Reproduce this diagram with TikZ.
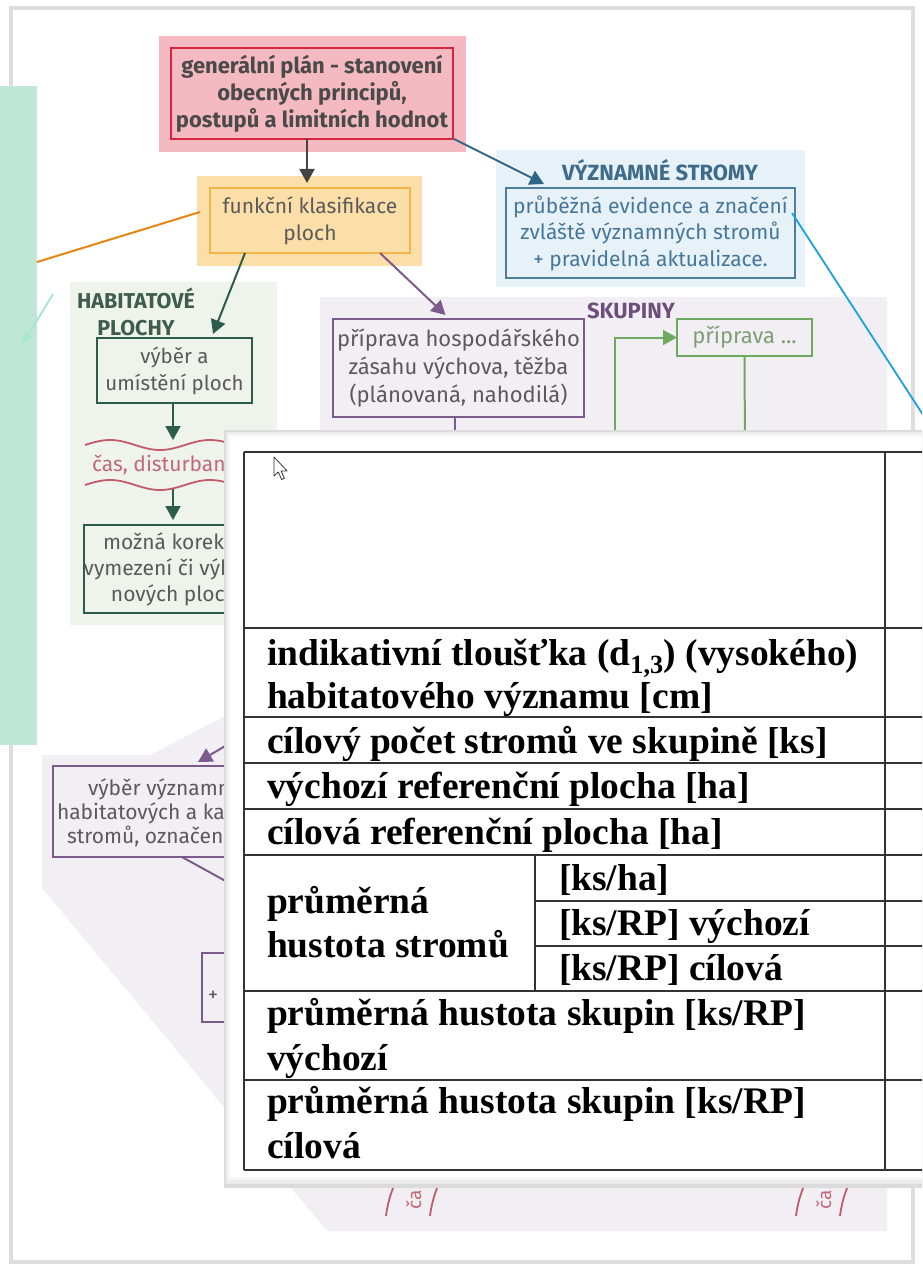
\documentclass[tikz,border=0pt]{standalone}
\usepackage{fontspec}
\setmainfont{Liberation Serif}
\newfontfamily\fcsans{Fira Sans}
\newfontfamily\fcbold{Fira Sans}
\usetikzlibrary{arrows.meta}
\definecolor{pagegray}{HTML}{DDDDDD}
\definecolor{mint}{HTML}{C0E6D5}
\definecolor{mintarr}{HTML}{A6EACD}
\definecolor{orangeline}{HTML}{E8850F}
\definecolor{redfill}{HTML}{F4B9C1}
\definecolor{redline}{HTML}{D6263F}
\definecolor{boldgray}{HTML}{4A4A4A}
\definecolor{txtgray}{HTML}{5A5A5A}
\definecolor{arrgray}{HTML}{444444}
\definecolor{orfill}{HTML}{FCDEA8}
\definecolor{orline}{HTML}{F4B548}
\definecolor{bluefill}{HTML}{E6F1F8}
\definecolor{blueline}{HTML}{4D7F9C}
\definecolor{bluetitle}{HTML}{3F6B8A}
\definecolor{bluetext}{HTML}{46779A}
\definecolor{bluearr}{HTML}{2F6688}
\definecolor{cyanline}{HTML}{19A2E0}
\definecolor{greenfill}{HTML}{EEF3EC}
\definecolor{greentitle}{HTML}{3F5D4E}
\definecolor{greenline}{HTML}{2E5C4C}
\definecolor{wavered}{HTML}{C25A6A}
\definecolor{wavetext}{HTML}{C06A78}
\definecolor{purplefill}{HTML}{F2EFF4}
\definecolor{purpleline}{HTML}{7D5A8C}
\definecolor{purpletitle}{HTML}{6E4E7E}
\definecolor{lgreenline}{HTML}{6DAA5F}
\definecolor{lgreentext}{HTML}{7F9E74}
\definecolor{tabline}{HTML}{333333}
\begin{document}
\begin{tikzpicture}[x=1pt,y=-1pt,
  every node/.style={inner sep=0pt, outer sep=0pt},
  sanslbl/.style={font=\fcsans\fontsize{21}{27}\selectfont, text=txtgray, align=center},
  boldlbl/.style={font=\fcbold\bfseries\fontsize{22}{27}\selectfont, text=boldgray, align=center},
  boxline/.style={line width=2pt},
  arrhead/.style={line width=2pt, -{Triangle[length=14pt,width=15pt]}},
  tabtext/.style={anchor=base west, font=\bfseries\fontsize{37.5}{43}\selectfont, text=black},
  tabrule/.style={line width=2.2pt, draw=tabline},
]
\useasboundingbox (0,0) rectangle (922,1268);
\clip (0,0) rectangle (922,1268);
\fill[white] (0,0) rectangle (922,1268);
% page frame
\draw[line width=4pt, pagegray] (11,8) rectangle (913,1262);

% mint strip and its connectors
\fill[mint] (0,86) rectangle (37,745);
\coordinate (mintA) at (37,262);
\coordinate (mintB) at (53,294);
\coordinate (mintC) at (22,345);

% SKUPINY region (lavender)
\fill[purplefill] (320,297) -- (887,297) -- (887,1231) -- (327,1231) -- (42,888)
   -- (42,755) -- (150,755) -- (320,667) -- cycle;

% red box
\node[fill=redfill, minimum width=307pt, minimum height=116pt] (redbg) at (312.5,94) {};
\node[draw=redline, line width=2.2pt, minimum width=282pt, minimum height=91pt, boldlbl] (red) at (312,93.5)
  {generální plán - stanovení\\obecných principů,\\postupů a limitních hodnot};

% orange box
\node[fill=orfill, minimum width=225pt, minimum height=90pt] (orbg) at (309.5,221) {};
\node[draw=orline, boxline, minimum width=200pt, minimum height=65pt, sanslbl] (orange) at (310,220.5)
  {funkční klasifikace\\ploch};

\draw[arrhead, arrgray] ([xshift=-5pt]red.south) -- ([xshift=-2.5pt,yshift=-7pt]orbg.north);
\draw[line width=2pt, orangeline] (orange.west |- 0,212) ++(-10,0) coordinate (orA) -- (mintA);
\draw[line width=2pt, mintarr, -{Stealth[length=14pt,width=10pt]}] (mintB) -- (mintC);

% VYZNAMNE STROMY
\node[fill=bluefill, minimum width=309pt, minimum height=137pt] (bluebg) at (650.5,218.5) {};
\node[font=\fcbold\bfseries\fontsize{22}{24}\selectfont, text=bluetitle] (bluett) at (660,170) {VÝZNAMNÉ STROMY};
\node[draw=blueline, boxline, minimum width=289pt, minimum height=90pt, sanslbl, text=bluetext, font=\fcsans\fontsize{21}{26.5}\selectfont] (blue) at (650.5,233)
  {průběžná evidence a značení\\zvláště významných stromů\\+ pravidelná aktualizace.};
\coordinate (bluetip) at (544,184);
\draw[arrhead, bluearr] ([xshift=1pt]red.south east) -- (bluetip);
\coordinate (cyanA) at (792,213);
\coordinate (cyanB) at (940,441);
\draw[line width=1.8pt, cyanline] (cyanA) -- (cyanB);

% HABITATOVE PLOCHY
\node[fill=greenfill, minimum width=207pt, minimum height=343pt] (greenbg) at (173.5,453.5) {};
\node[font=\fcbold\bfseries\fontsize{21.5}{27}\selectfont, text=greentitle, align=center] (habtt) at (136,311.5) {HABITATOVÉ\\PLOCHY};
\node[draw=greenline, boxline, minimum width=155pt, minimum height=65pt, sanslbl, font=\fcsans\fontsize{20.5}{27}\selectfont] (hab1) at (174.5,370.5)
  {výběr a\\umístění ploch};
\draw[arrhead, greenline] ([xshift=35pt]orange.south west) -- ([xshift=116pt,yshift=4pt]hab1.north west);
\coordinate (wavetop) at (173,440);
\draw[arrhead, greenline] ([xshift=-1.5pt]hab1.south) -- (wavetop);
\draw[line width=1.8pt, wavered] plot[domain=85:300, samples=90] (\x, {445 - 5*sin((\x-85)*3.6)});
\draw[line width=1.8pt, wavered] plot[domain=85:300, samples=90] (\x, {485 - 5*sin((\x-85)*3.6)});
\node[anchor=base west, font=\fcsans\fontsize{21}{24}\selectfont, text=wavetext] (cas) at (92,471) {čas, disturbance};
\coordinate (wavebot) at (173,489);
\node[draw=greenline, boxline, minimum width=176pt, minimum height=88pt, sanslbl, font=\fcsans\fontsize{21}{26}\selectfont] (hab2) at (174,569)
  {možná korekce\\vymezení či výběru\\nových ploch};
\draw[arrhead, greenline] (wavebot) -- ([yshift=5pt]hab2.north -| wavebot);

% SKUPINY
\node[draw=purpleline, boxline, minimum width=251pt, minimum height=98pt, sanslbl, font=\fcsans\fontsize{22}{28}\selectfont] (pbox1) at (458.5,368)
  {příprava hospodářského\\zásahu výchova, těžba\\(plánovaná, nahodilá)};
\draw[arrhead, purpleline] ([xshift=-30pt]orange.south east) -- ([xshift=-13pt,yshift=4pt]pbox1.north);
\coordinate (pdown) at (455,450);
\draw[line width=2pt, purpleline] ([xshift=-3.5pt]pbox1.south) -- (pdown);
\node[font=\fcbold\bfseries\fontsize{22}{24}\selectfont, text=purpletitle] (skuptt) at (631,311) {SKUPINY};
\node[draw=lgreenline, boxline, minimum width=135pt, minimum height=37pt, font=\fcsans\fontsize{22}{24}\selectfont, text=lgreentext] (gbox) at (744.5,337.5) {příprava ...};
\coordinate (gstart) at (615,450);
\coordinate (gend) at (745,450);
\draw[arrhead, lgreenline] (gstart) |- (gbox.west);
\draw[line width=2pt, lgreenline] (gbox.south) -- (gend);

% lower purple items
\node[draw=purpleline, boxline, minimum width=367pt, minimum height=91pt] (pbox2) at (236.5,811.5) {};
\node[anchor=base west, font=\fcsans\fontsize{21}{24}\selectfont, text=txtgray] (p2a) at (88,795) {výběr významných};
\node[anchor=base west, font=\fcsans\fontsize{21}{24}\selectfont, text=txtgray] (p2b) at (57,819) {habitatových a kapacitních};
\node[anchor=base west, font=\fcsans\fontsize{21}{24}\selectfont, text=txtgray] (p2c) at (67,843) {stromů, označení};
\coordinate (p2src) at (290,708);
\draw[arrhead, purpleline] (p2src) -- ([xshift=145pt,yshift=4pt]pbox2.north west);
\coordinate (p2out) at (300,922);
\draw[line width=2pt, purpleline] ([xshift=129pt]pbox2.south west) -- (p2out);
\node[draw=purpleline, boxline, minimum width=198pt, minimum height=69pt] (pbox3) at (301,987.5) {};
\node[font=\fcsans\fontsize{20}{22}\selectfont, text=txtgray] (plus) at (213,996) {+};

% bottom time markers
\foreach \dx/\nm in {0/ma,410/mb}{
  \draw[line width=1.8pt, wavered] (386+\dx,1216) .. controls (388+\dx,1200) and (392+\dx,1190) .. (398+\dx,1176);
  \draw[line width=1.8pt, wavered] (430+\dx,1216) .. controls (432+\dx,1200) and (436+\dx,1190) .. (442+\dx,1176);
  \node[anchor=base west, rotate=90, font=\fcsans\fontsize{19}{21}\selectfont, text=wavetext] (\nm) at (421+\dx,1209) {čas, disturbance};
}

% overlaid table panel
\fill[black!14] (224,430) rectangle (940,1188);
\fill[black!8] (226,432) rectangle (940,1184);
\fill[black!3] (228,434) rectangle (940,1180);
\fill[white] (230,437) rectangle (940,1177);

\draw[tabrule] (244,452) -- (940,452);
\draw[tabrule] (244,452) -- (244,1170);
\draw[tabrule] (885,452) -- (885,1170);
\draw[tabrule] (244,1170) -- (940,1170);
\foreach \yy in {628,717,763,809,855,991,1080}{
  \draw[tabrule] (244,\yy) -- (940,\yy);
}
\draw[tabrule] (535,901) -- (940,901);
\draw[tabrule] (535,946) -- (940,946);
\draw[tabrule] (535,855) -- (535,991);

\node[tabtext] (t1a) at (267,665) {indikativní tloušťka (d\textsubscript{1,3}) (vysokého)};
\node[tabtext] (t1b) at (267,708) {habitatového významu [cm]};
\node[tabtext] (t2) at (267,753) {cílový počet stromů ve skupině [ks]};
\node[tabtext] (t3) at (267,798) {výchozí referenční plocha [ha]};
\node[tabtext] (t4) at (267,844) {cílová referenční plocha [ha]};
\node[tabtext] (t5a) at (267,913) {průměrná};
\node[tabtext] (t5b) at (267,957) {hustota stromů};
\node[tabtext] (t5c) at (559,890) {[ks/ha]};
\node[tabtext] (t5d) at (559,935) {[ks/RP] výchozí};
\node[tabtext] (t5e) at (559,980) {[ks/RP] cílová};
\node[tabtext] (t6a) at (267,1025) {průměrná hustota skupin [ks/RP]};
\node[tabtext] (t6b) at (267,1070) {výchozí};
\node[tabtext] (t7a) at (267,1113) {průměrná hustota skupin [ks/RP]};
\node[tabtext] (t7b) at (267,1158) {cílová};

% mouse cursor
\draw[line width=0.8pt, black!80, fill=white, line join=round]
  (274,457) -- ++(0,19) -- ++(4.3,-4) -- ++(3.3,7.5) -- ++(2.8,-1.2) -- ++(-3.3,-7.4) -- ++(6,0) -- cycle;
\end{tikzpicture}
\end{document}
